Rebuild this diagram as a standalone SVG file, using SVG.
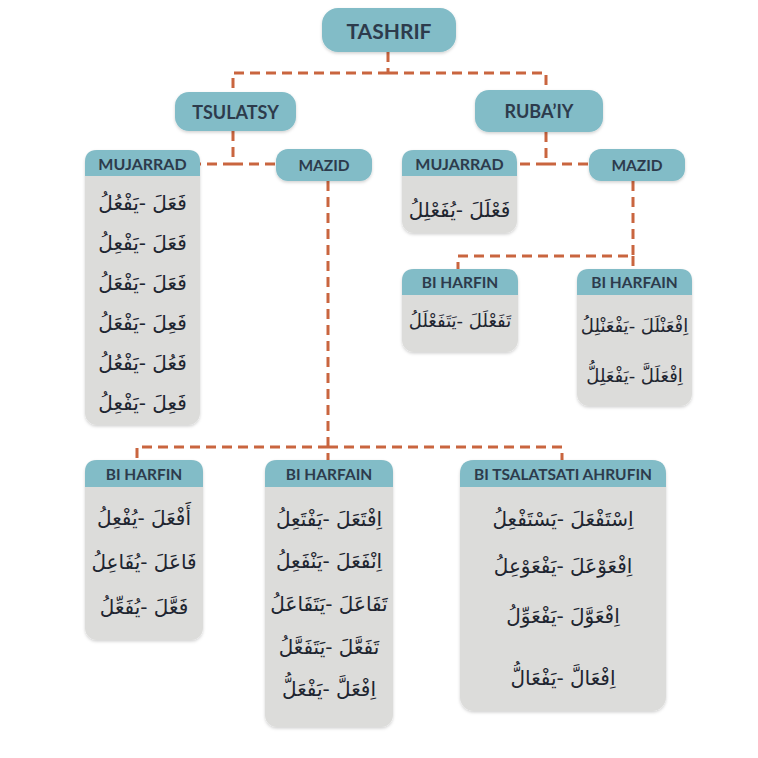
<svg xmlns="http://www.w3.org/2000/svg" width="758" height="758" viewBox="0 0 758 758">
<defs>
<filter id="sh" x="-10%" y="-10%" width="120%" height="130%">
<feDropShadow dx="0" dy="1.5" stdDeviation="1.5" flood-color="#000" flood-opacity="0.18"/>
</filter>
</defs>
<style>
.pill{fill:#82bcc7;filter:url(#sh)}
.body{fill:#dcdcda;filter:url(#sh)}
.head{fill:#82bcc7}
.lbl{font-family:Lato,"Open Sans","Liberation Sans",sans-serif;font-weight:700;fill:#2d3b4c;text-anchor:middle;dominant-baseline:central}
.ar{font-family:"DejaVu Sans","Noto Sans",sans-serif;font-size:20px;fill:#1e2530;text-anchor:middle;direction:rtl}
.sm{font-size:18px}
.conn{fill:none;stroke:#c9653f;stroke-width:3;stroke-dasharray:10 6}
</style>
<rect width="758" height="758" fill="#ffffff"/>

<g id="connectors">
<path class="conn" d="M388 52 V73"/>
<path class="conn" d="M388 73 H233 V92"/>
<path class="conn" d="M388 73 H546 V90"/>
<path class="conn" d="M233 131 V164"/>
<path class="conn" d="M233 164 H199"/>
<path class="conn" d="M233 164 H276"/>
<path class="conn" d="M546 132 V164"/>
<path class="conn" d="M546 164 H516"/>
<path class="conn" d="M546 164 H589"/>
<path class="conn" d="M633 181 V256 H458 V269"/>
<path class="conn" d="M633 256 V269"/>
<path class="conn" d="M328 181 V460"/>
<path class="conn" d="M328 447 H137 V460"/>
<path class="conn" d="M328 447 H562 V460"/>
</g>

<g id="tashrif">
<rect class="pill" x="322" y="8" width="134" height="44" rx="16"/>
<text class="lbl" x="389" y="30" font-size="21">TASHRIF</text>
</g>
<g id="tsulatsy">
<rect class="pill" x="175" y="92" width="121" height="39" rx="14"/>
<text class="lbl" x="235.5" y="111.5" font-size="18">TSULATSY</text>
</g>
<g id="rubaiy">
<rect class="pill" x="475" y="90" width="128" height="42" rx="14"/>
<text class="lbl" x="539" y="111" font-size="18">RUBA’IY</text>
</g>
<g id="mazid-tsulatsy">
<rect class="pill" x="276" y="149" width="96" height="32" rx="12"/>
<text class="lbl" x="324" y="165" font-size="15.5">MAZID</text>
</g>
<g id="mazid-rubaiy">
<rect class="pill" x="589" y="149" width="96" height="32" rx="12"/>
<text class="lbl" x="637" y="165" font-size="15.5">MAZID</text>
</g>

<g id="mujarrad-tsulatsy">
<rect class="body" x="85" y="150" width="115" height="275" rx="12"/>
<path class="head" d="M85 176 V162 Q85 150 97 150 H188 Q200 150 200 162 V176 Z"/>
<text class="lbl" x="142.5" y="163" font-size="16">MUJARRAD</text>
<text class="ar" x="142.5" y="210">فَعَلَ -يَفْعُلُ</text>
<text class="ar" x="142.5" y="250">فَعَلَ -يَفْعِلُ</text>
<text class="ar" x="142.5" y="290">فَعَلَ -يَفْعَلُ</text>
<text class="ar" x="142.5" y="330">فَعِلَ -يَفْعَلُ</text>
<text class="ar" x="142.5" y="370">فَعُلَ -يَفْعُلُ</text>
<text class="ar" x="142.5" y="410">فَعِلَ -يَفْعِلُ</text>
</g>

<g id="mujarrad-rubaiy">
<rect class="body" x="402" y="150" width="115" height="83" rx="12"/>
<path class="head" d="M402 176 V162 Q402 150 414 150 H505 Q517 150 517 162 V176 Z"/>
<text class="lbl" x="459.5" y="163" font-size="16">MUJARRAD</text>
<text class="ar" x="459.5" y="217">فَعْلَلَ -يُفَعْلِلُ</text>
</g>

<g id="biharfin-rubaiy">
<rect class="body" x="402" y="269" width="116" height="83" rx="12"/>
<path class="head" d="M402 295 V281 Q402 269 414 269 H506 Q518 269 518 281 V295 Z"/>
<text class="lbl" x="460" y="282" font-size="15.5">BI HARFIN</text>
<text class="ar sm" x="460" y="327">تَفَعْلَلَ -يَتَفَعْلَلُ</text>
</g>

<g id="biharfain-rubaiy">
<rect class="body" x="577" y="269" width="115" height="137" rx="12"/>
<path class="head" d="M577 295 V281 Q577 269 589 269 H680 Q692 269 692 281 V295 Z"/>
<text class="lbl" x="634.5" y="282" font-size="15.5">BI HARFAIN</text>
<text class="ar sm" x="634.5" y="332">اِفْعَنْلَلَ -يَفْعَنْلِلُ</text>
<text class="ar sm" x="634.5" y="382">اِفْعَلَلَّ -يَفْعَلِلُّ</text>
</g>

<g id="biharfin-tsulatsy">
<rect class="body" x="85" y="460" width="118" height="180" rx="12"/>
<path class="head" d="M85 487 V472 Q85 460 97 460 H191 Q203 460 203 472 V487 Z"/>
<text class="lbl" x="144" y="473.5" font-size="15.5">BI HARFIN</text>
<text class="ar" x="144" y="525">أَفْعَلَ -يُفْعِلُ</text>
<text class="ar" x="144" y="569">فَاعَلَ -يُفَاعِلُ</text>
<text class="ar" x="144" y="614">فَعَّلَ -يُفَعِّلُ</text>
</g>

<g id="biharfain-tsulatsy">
<rect class="body" x="265" y="460" width="128" height="267" rx="12"/>
<path class="head" d="M265 487 V472 Q265 460 277 460 H381 Q393 460 393 472 V487 Z"/>
<text class="lbl" x="329" y="473.5" font-size="15.5">BI HARFAIN</text>
<text class="ar" x="329" y="526">اِفْتَعَلَ -يَفْتَعِلُ</text>
<text class="ar" x="329" y="568">اِنْفَعَلَ -يَنْفَعِلُ</text>
<text class="ar" x="329" y="611">تَفَاعَلَ -يَتَفَاعَلُ</text>
<text class="ar" x="329" y="654">تَفَعَّلَ -يَتَفَعَّلُ</text>
<text class="ar" x="329" y="696">اِفْعَلَّ -يَفْعَلُّ</text>
</g>

<g id="bitsalatsati-ahrufin">
<rect class="body" x="460" y="460" width="206" height="251" rx="14"/>
<path class="head" d="M460 487 V474 Q460 460 474 460 H652 Q666 460 666 474 V487 Z"/>
<text class="lbl" x="563" y="473.5" font-size="15.5">BI TSALATSATI AHRUFIN</text>
<text class="ar" x="563" y="526">اِسْتَفْعَلَ -يَسْتَفْعِلُ</text>
<text class="ar" x="563" y="573">اِفْعَوْعَلَ -يَفْعَوْعِلُ</text>
<text class="ar" x="563" y="623">اِفْعَوَّلَ -يَفْعَوِّلُ</text>
<text class="ar" x="563" y="685">اِفْعَالَّ -يَفْعَالُّ</text>
</g>
</svg>
